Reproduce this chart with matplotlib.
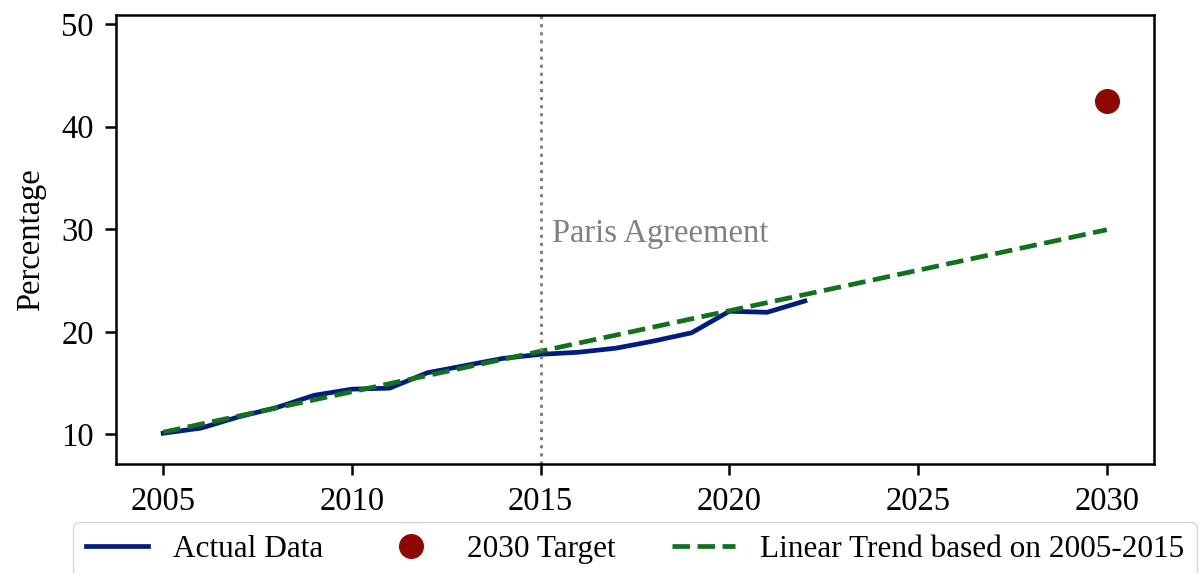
import matplotlib
matplotlib.use('Agg')
import matplotlib.pyplot as plt

plt.rcParams['font.family'] = ['Liberation Serif', 'DejaVu Serif']
plt.rcParams['font.size'] = 23.5

years = [2005, 2006, 2007, 2008, 2009, 2010, 2011, 2012, 2013, 2014, 2015,
         2016, 2017, 2018, 2019, 2020, 2021, 2022]
share = [10.1, 10.6, 11.7, 12.6, 13.8, 14.4, 14.5, 16.0, 16.7, 17.4, 17.8,
         18.0, 18.4, 19.1, 19.9, 22.0, 21.9, 23.0]

target_year = [2030]
target_val = [42.5]

trend_years = [2005, 2030]
trend_vals = [10.2, 29.95]

paris_year = 2015

fig = plt.figure(figsize=(12.01, 5.73), dpi=100)
ax = fig.add_axes([116 / 1201, 109 / 573, 1038 / 1201, 449 / 573])

ax.plot(years, share, color='#001c7f', lw=3.4, label='Actual Data')
ax.plot(target_year, target_val, 'o', color='#8c0800', ms=17, label='2030 Target')
ax.plot(trend_years, trend_vals, '--', color='#12711c', lw=3.4,
        label='Linear Trend based on 2005-2015')
ax.axvline(paris_year, color='gray', ls=':', lw=2.2)
ax.text(paris_year + 0.3, 29.6, 'Paris Agreement', color='gray', va='center')

ax.set_ylim(7.1, 50.9)
ax.set_xticks([2005, 2010, 2015, 2020, 2025, 2030])
ax.set_yticks([10, 20, 30, 40, 50])
ax.set_ylabel('Percentage', labelpad=11)
for s in ax.spines.values():
    s.set_linewidth(1.8)
ax.tick_params(width=1.8, length=8, pad=8)

ax.legend(loc='upper center', bbox_to_anchor=(0.5, -0.095), ncol=3,
          fontsize=22.5, columnspacing=1.8)

fig.savefig('out.png', dpi=100)
